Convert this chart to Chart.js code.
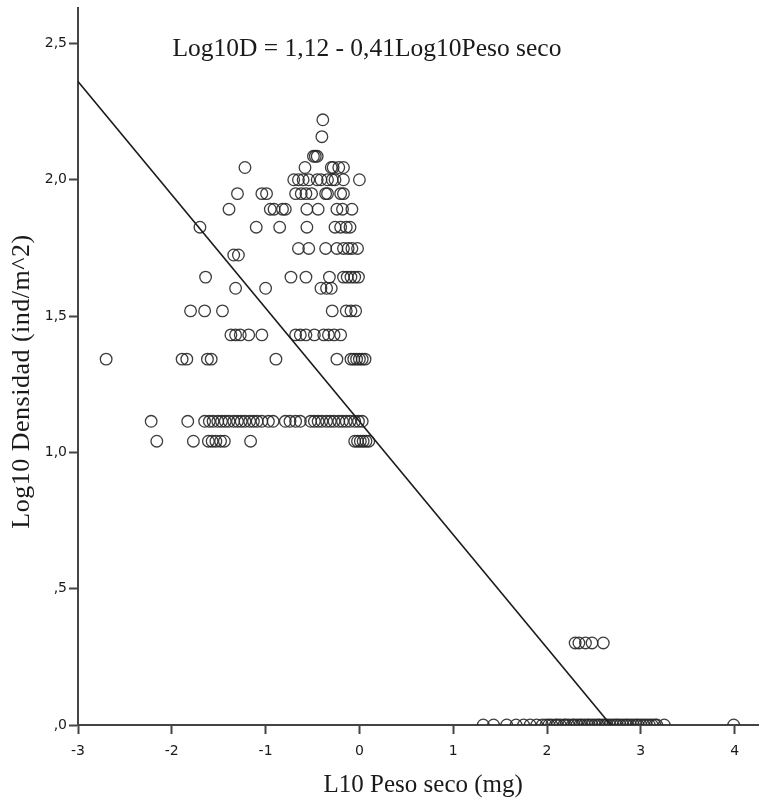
<!DOCTYPE html>
<html>
<head>
<meta charset="utf-8">
<script src="https://cdn.jsdelivr.net/npm/chart.js@4.4.1/dist/chart.umd.min.js"></script>
<style>
  html, body { margin: 0; padding: 0; background: #ffffff; }
  #wrap { width: 759px; height: 802px; position: relative; }
</style>
</head>
<body>
<div id="wrap"><canvas id="c" width="759" height="802"></canvas></div>
<script>
// ---- Data (x = L10 Peso seco, y = Log10 Densidad) ----
const densityLevels = [0, 0.301, 1.041, 1.114, 1.342, 1.431, 1.519, 1.602, 1.643, 1.724, 1.748, 1.826, 1.892, 1.949, 2.0, 2.045, 2.086, 2.158, 2.22];

const pesoAt000 = [1.32, 1.43, 1.57, 1.67, 1.75, 1.82, 1.89, 1.95, 1.99, 2.02, 2.05, 2.09, 2.11, 2.14, 2.18, 2.20, 2.23, 2.27, 2.29, 2.32, 2.35, 2.37, 2.40, 2.43, 2.45, 2.48, 2.51, 2.54, 2.56, 2.59, 2.62, 2.64, 2.67, 2.70, 2.73, 2.75, 2.78, 2.81, 2.84, 2.86, 2.89, 2.92, 2.95, 2.97, 3.00, 3.03, 3.06, 3.09, 3.12, 3.15, 3.17, 3.25, 3.99];
const pesoAt030 = [2.30, 2.34, 2.41, 2.48, 2.60];
const pesoAt104 = [-2.16, -1.77, -1.61, -1.57, -1.53, -1.48, -1.44, -1.16, -0.05, -0.02, 0.01, 0.04, 0.07, 0.10];
const pesoAt111 = [-2.22, -1.83, -1.65, -1.60, -1.56, -1.51, -1.47, -1.43, -1.39, -1.34, -1.30, -1.26, -1.22, -1.17, -1.13, -1.09, -1.04, -0.97, -0.92, -0.79, -0.74, -0.68, -0.63, -0.52, -0.48, -0.44, -0.40, -0.35, -0.31, -0.27, -0.22, -0.18, -0.14, -0.10, -0.05, -0.01, 0.03];
const pesoAt134 = [-2.70, -1.89, -1.84, -1.62, -1.58, -0.89, -0.24, -0.09, -0.06, -0.03, 0.00, 0.03, 0.06];
const pesoAt143 = [-1.37, -1.32, -1.27, -1.18, -1.04, -0.68, -0.63, -0.57, -0.48, -0.38, -0.33, -0.27, -0.20];
const pesoAt152 = [-1.80, -1.65, -1.46, -0.29, -0.14, -0.09, -0.04];
const pesoAt160 = [-1.32, -1.00, -0.41, -0.35, -0.30];
const pesoAt164 = [-1.64, -0.73, -0.57, -0.32, -0.17, -0.13, -0.09, -0.05, -0.01];
const pesoAt172 = [-1.34, -1.29];
const pesoAt175 = [-0.65, -0.54, -0.36, -0.24, -0.17, -0.12, -0.08, -0.02];
const pesoAt183 = [-1.70, -1.10, -0.85, -0.56, -0.26, -0.20, -0.14, -0.10];
const pesoAt189 = [-1.39, -0.95, -0.91, -0.82, -0.79, -0.56, -0.44, -0.24, -0.18, -0.08];
const pesoAt195 = [-1.30, -1.04, -0.99, -0.68, -0.62, -0.57, -0.51, -0.36, -0.34, -0.20, -0.17];
const pesoAt200 = [-0.70, -0.65, -0.60, -0.54, -0.45, -0.41, -0.34, -0.29, -0.26, -0.17, 0.00];
const pesoAt205 = [-1.22, -0.58, -0.30, -0.28, -0.22, -0.17];
const pesoAt209 = [-0.49, -0.47, -0.45];
const pesoAt216 = [-0.40];
const pesoAt222 = [-0.39];

const pesoByLevel = [pesoAt000, pesoAt030, pesoAt104, pesoAt111, pesoAt134, pesoAt143, pesoAt152, pesoAt160, pesoAt164, pesoAt172, pesoAt175, pesoAt183, pesoAt189, pesoAt195, pesoAt200, pesoAt205, pesoAt209, pesoAt216, pesoAt222];

// Fitted line: Log10D = 1,12 - 0,41 Log10Peso seco (endpoints as drawn)
const fitX = [-3, 2.68];
const fitY = [2.36, 0];

const xTicks = [-3, -2, -1, 0, 1, 2, 3, 4];
const xTickLabels = ['-3', '-2', '-1', '0', '1', '2', '3', '4'];
const yTicks = [0, 0.5, 1.0, 1.5, 2.0, 2.5];
const yTickLabels = [',0', ',5', '1,0', '1,5', '2,0', '2,5'];

const xTitle = 'L10 Peso seco (mg)';
const yTitle = 'Log10 Densidad (ind/m^2)';
const equationText = 'Log10D = 1,12 - 0,41Log10Peso seco';

// ---- Build datasets ----
const scatterPoints = [];
densityLevels.forEach((lvl, i) => {
  pesoByLevel[i].forEach(px => scatterPoints.push({ x: px, y: lvl }));
});
const fitPoints = fitX.map((v, i) => ({ x: v, y: fitY[i] }));

const axisColor = '#444444';
const textColor = '#1a1a1a';
const serif = '"Liberation Serif", "Times New Roman", serif';
const sans = '"DejaVu Sans", "Liberation Sans", Arial, sans-serif';

const textPlugin = {
  id: 'texts',
  afterDraw(chart) {
    const ctx = chart.ctx;
    const xs = chart.scales.x, ys = chart.scales.y;
    ctx.save();
    ctx.fillStyle = textColor;
    // equation
    ctx.font = '25.5px ' + serif;
    ctx.textAlign = 'center';
    ctx.textBaseline = 'alphabetic';
    ctx.fillText(equationText, xs.getPixelForValue(0.08), 56);
    // x title
    ctx.font = '25px ' + serif;
    ctx.fillText(xTitle, xs.getPixelForValue(0.68), 792);
    // y title
    ctx.translate(22, ys.getPixelForValue(1.26));
    ctx.rotate(-Math.PI / 2);
    ctx.font = '26px ' + serif;
    if ('letterSpacing' in ctx) ctx.letterSpacing = '0.5px';
    ctx.textBaseline = 'middle';
    ctx.fillText(yTitle, 0, 0);
    ctx.restore();
  }
};

new Chart(document.getElementById('c'), {
  type: 'scatter',
  data: {
    datasets: [
      {
        type: 'line',
        data: fitPoints,
        borderColor: '#1a1a1a',
        borderWidth: 1.6,
        pointRadius: 0,
        fill: false,
        tension: 0,
        order: 0
      },
      {
        type: 'scatter',
        data: scatterPoints,
        pointRadius: 5.8,
        pointStyle: 'circle',
        pointBorderWidth: 1.3,
        pointBorderColor: 'rgba(40,40,40,0.9)',
        pointBackgroundColor: 'rgba(0,0,0,0)',
        order: 1
      }
    ]
  },
  options: {
    responsive: false,
    animation: false,
    devicePixelRatio: 1,
    layout: { autoPadding: false, padding: { top: 8, right: 0, left: 0, bottom: 0 } },
    plugins: { legend: { display: false }, tooltip: { enabled: false } },
    scales: {
      x: {
        type: 'linear',
        min: -3,
        max: 4.26,
        afterFit(scale) { scale.height = 77; scale.paddingLeft = 0; scale.paddingRight = 0; },
        afterBuildTicks(scale) { scale.ticks = xTicks.map(v => ({ value: v })); },
        grid: { drawOnChartArea: false, drawTicks: true, tickLength: 9, tickWidth: 2, tickColor: axisColor },
        border: { display: true, color: axisColor, width: 2 },
        ticks: {
          padding: 9,
          color: textColor,
          font: { family: sans, size: 14 },
          maxRotation: 0,
          callback: (v) => { const i = xTicks.indexOf(v); return i >= 0 ? xTickLabels[i] : ''; }
        },
        title: { display: false }
      },
      y: {
        type: 'linear',
        min: 0,
        max: 2.63,
        afterFit(scale) { scale.width = 78; scale.paddingTop = 0; scale.paddingBottom = 0; },
        afterBuildTicks(scale) { scale.ticks = yTicks.map(v => ({ value: v })); },
        grid: { drawOnChartArea: false, drawTicks: true, tickLength: 9, tickWidth: 2, tickColor: axisColor },
        border: { display: true, color: axisColor, width: 2 },
        ticks: {
          padding: 2,
          color: textColor,
          font: { family: sans, size: 14 },
          callback: (v) => { const i = yTicks.indexOf(v); return i >= 0 ? yTickLabels[i] : ''; }
        },
        title: { display: false }
      }
    }
  },
  plugins: [textPlugin]
});
</script>
</body>
</html>
